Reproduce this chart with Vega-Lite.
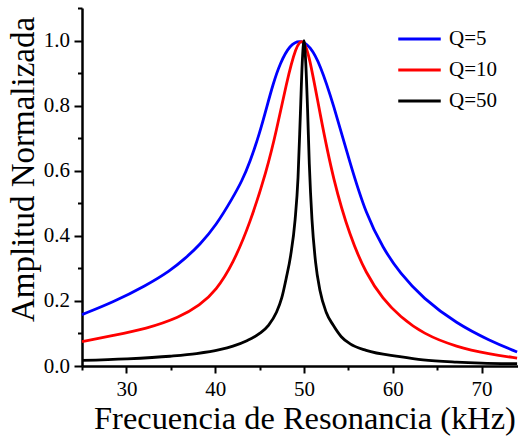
{
  "$schema": "https://vega.github.io/schema/vega-lite/v6.json",
  "autosize": {"type": "none"},
  "padding": {"left": 82, "top": 8, "right": 0, "bottom": 71},
  "width": 436,
  "height": 358,
  "background": "white",
  "config": {"font": "Liberation Serif", "view": {"stroke": null}},
  "encoding": {
    "x": {
      "field": "f", "type": "quantitative",
      "scale": {"domain": [25, 74.1], "nice": false, "zero": false},
      "axis": {
        "values": [25, 30, 35, 40, 45, 50, 55, 60, 65, 70],
        "labelExpr": "datum.value % 10 === 0 ? datum.label : ''",
        "tickSize": {"condition": {"test": "datum.value % 10 === 0", "value": 7}, "value": 4},
        "tickWidth": 2, "tickColor": "black",
        "domainColor": "black", "domainWidth": 2.5,
        "labelFontSize": 21, "labelColor": "black", "labelPadding": 5.5,
        "labelFlush": false, "labelOverlap": false, "grid": false,
        "title": "Frecuencia de Resonancia (kHz)",
        "titleFontSize": 32.4, "titleFontWeight": "normal", "titleColor": "black",
        "titleX": 222.5, "titleY": 62, "titleBaseline": "alphabetic", "titleAlign": "center"
      }
    },
    "y": {
      "field": "A", "type": "quantitative",
      "scale": {"domain": [0, 1.1], "nice": false},
      "axis": {
        "values": [0, 0.1, 0.2, 0.3, 0.4, 0.5, 0.6, 0.7, 0.8, 0.9, 1.0, 1.1],
        "format": ".1f",
        "labelExpr": "round(datum.value * 10) % 2 === 0 ? datum.label : ''",
        "tickSize": {"condition": {"test": "round(datum.value * 10) % 2 === 0", "value": 8}, "value": 4.5},
        "tickWidth": 2, "tickColor": "black",
        "domainColor": "black", "domainWidth": 2.5,
        "labelFontSize": 21, "labelColor": "black", "labelPadding": 4.5,
        "labelFlush": false, "labelOverlap": false, "grid": false,
        "title": "Amplitud Normalizada",
        "titleFontSize": 33, "titleFontWeight": "normal", "titleColor": "black",
        "titleAngle": -90, "titleX": -49, "titleY": 161,
        "titleBaseline": "alphabetic", "titleAlign": "center"
      }
    },
    "color": {
      "field": "Q", "type": "nominal",
      "scale": {"domain": ["Q=5", "Q=10", "Q=50"], "range": ["#0000ff", "#ff0000", "#000000"]},
      "legend": {
        "title": null, "orient": "none", "legendX": 327, "legendY": 20.5,
        "symbolType": "M-2.5,0H2.5", "symbolSize": 289, "symbolStrokeWidth": 2.8,
        "labelFontSize": 21, "labelColor": "black", "labelOffset": 19,
        "rowPadding": 9, "padding": 0, "symbolOffset": 0
      }
    }
  },
  "layer": [
    {
      "data": {"values": [
        {"Q": "Q=5", "f": 25.0, "A": 0.158},
        {"Q": "Q=5", "f": 28.5, "A": 0.196},
        {"Q": "Q=5", "f": 32.2, "A": 0.247},
        {"Q": "Q=5", "f": 34.9, "A": 0.292},
        {"Q": "Q=5", "f": 36.6, "A": 0.330},
        {"Q": "Q=5", "f": 38.25, "A": 0.372},
        {"Q": "Q=5", "f": 40.1, "A": 0.432},
        {"Q": "Q=5", "f": 42.0, "A": 0.518},
        {"Q": "Q=5", "f": 43.0, "A": 0.568},
        {"Q": "Q=5", "f": 43.9, "A": 0.625},
        {"Q": "Q=5", "f": 45.0, "A": 0.715},
        {"Q": "Q=5", "f": 45.8, "A": 0.795},
        {"Q": "Q=5", "f": 46.5, "A": 0.865},
        {"Q": "Q=5", "f": 47.3, "A": 0.930},
        {"Q": "Q=5", "f": 48.4, "A": 0.987},
        {"Q": "Q=5", "f": 49.6, "A": 1.003},
        {"Q": "Q=5", "f": 50.7, "A": 0.982},
        {"Q": "Q=5", "f": 51.8, "A": 0.928},
        {"Q": "Q=5", "f": 53.3, "A": 0.806},
        {"Q": "Q=5", "f": 55.2, "A": 0.621},
        {"Q": "Q=5", "f": 57.0, "A": 0.465},
        {"Q": "Q=5", "f": 58.9, "A": 0.362},
        {"Q": "Q=5", "f": 60.8, "A": 0.285},
        {"Q": "Q=5", "f": 63.4, "A": 0.208},
        {"Q": "Q=5", "f": 67.2, "A": 0.130},
        {"Q": "Q=5", "f": 70.9, "A": 0.078},
        {"Q": "Q=5", "f": 74.0, "A": 0.043},
        {"Q": "Q=10", "f": 25.0, "A": 0.075},
        {"Q": "Q=10", "f": 28.5, "A": 0.094},
        {"Q": "Q=10", "f": 32.2, "A": 0.114},
        {"Q": "Q=10", "f": 36.0, "A": 0.150},
        {"Q": "Q=10", "f": 38.25, "A": 0.186},
        {"Q": "Q=10", "f": 40.1, "A": 0.232},
        {"Q": "Q=10", "f": 42.0, "A": 0.314},
        {"Q": "Q=10", "f": 43.9, "A": 0.437},
        {"Q": "Q=10", "f": 45.8, "A": 0.600},
        {"Q": "Q=10", "f": 46.9, "A": 0.723},
        {"Q": "Q=10", "f": 48.0, "A": 0.867},
        {"Q": "Q=10", "f": 49.1, "A": 0.985},
        {"Q": "Q=10", "f": 49.9, "A": 1.008},
        {"Q": "Q=10", "f": 50.6, "A": 0.955},
        {"Q": "Q=10", "f": 51.8, "A": 0.775},
        {"Q": "Q=10", "f": 53.3, "A": 0.570},
        {"Q": "Q=10", "f": 55.2, "A": 0.396},
        {"Q": "Q=10", "f": 57.0, "A": 0.283},
        {"Q": "Q=10", "f": 58.9, "A": 0.205},
        {"Q": "Q=10", "f": 60.8, "A": 0.152},
        {"Q": "Q=10", "f": 63.4, "A": 0.099},
        {"Q": "Q=10", "f": 67.2, "A": 0.058},
        {"Q": "Q=10", "f": 70.9, "A": 0.037},
        {"Q": "Q=10", "f": 74.0, "A": 0.024}
      ]},
      "mark": {"type": "line", "interpolate": "basis", "strokeWidth": 2.8}
    },
    {
      "data": {"values": [
        {"Q": "Q=50", "f": 25.0, "A": 0.017},
        {"Q": "Q=50", "f": 30.0, "A": 0.022},
        {"Q": "Q=50", "f": 34.9, "A": 0.030},
        {"Q": "Q=50", "f": 37.9, "A": 0.038},
        {"Q": "Q=50", "f": 40.5, "A": 0.050},
        {"Q": "Q=50", "f": 42.0, "A": 0.061},
        {"Q": "Q=50", "f": 43.5, "A": 0.077},
        {"Q": "Q=50", "f": 45.0, "A": 0.100},
        {"Q": "Q=50", "f": 46.0, "A": 0.125},
        {"Q": "Q=50", "f": 46.9, "A": 0.165},
        {"Q": "Q=50", "f": 47.5, "A": 0.210},
        {"Q": "Q=50", "f": 48.0, "A": 0.270},
        {"Q": "Q=50", "f": 48.5, "A": 0.340},
        {"Q": "Q=50", "f": 49.0, "A": 0.450},
        {"Q": "Q=50", "f": 49.33, "A": 0.580},
        {"Q": "Q=50", "f": 49.6, "A": 0.780},
        {"Q": "Q=50", "f": 49.8, "A": 0.930},
        {"Q": "Q=50", "f": 50.0, "A": 1.0},
        {"Q": "Q=50", "f": 50.2, "A": 0.930},
        {"Q": "Q=50", "f": 50.4, "A": 0.790},
        {"Q": "Q=50", "f": 50.6, "A": 0.620},
        {"Q": "Q=50", "f": 50.9, "A": 0.450},
        {"Q": "Q=50", "f": 51.3, "A": 0.320},
        {"Q": "Q=50", "f": 51.8, "A": 0.232},
        {"Q": "Q=50", "f": 52.5, "A": 0.165},
        {"Q": "Q=50", "f": 53.3, "A": 0.125},
        {"Q": "Q=50", "f": 54.2, "A": 0.090},
        {"Q": "Q=50", "f": 55.2, "A": 0.068},
        {"Q": "Q=50", "f": 57.0, "A": 0.048},
        {"Q": "Q=50", "f": 60.8, "A": 0.029},
        {"Q": "Q=50", "f": 63.4, "A": 0.019},
        {"Q": "Q=50", "f": 67.2, "A": 0.012},
        {"Q": "Q=50", "f": 70.0, "A": 0.009},
        {"Q": "Q=50", "f": 74.0, "A": 0.007}
      ]},
      "mark": {"type": "line", "interpolate": "monotone", "strokeWidth": 2.8}
    },
    {
      "data": {"values": [{}]},
      "mark": {"type": "rule", "color": "black", "strokeWidth": 2.5},
      "encoding": {"y": {"datum": 1.1}, "x": null, "color": null}
    }
  ]
}
